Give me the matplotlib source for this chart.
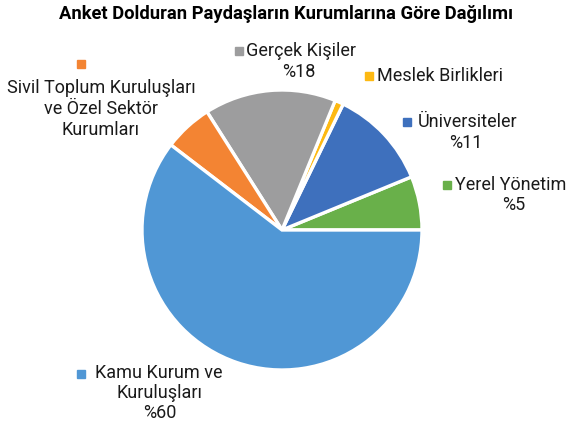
import matplotlib
matplotlib.use("Agg")
import matplotlib.pyplot as plt
from matplotlib.patches import Rectangle

categories = ["Yerel Yönetim", "Üniversiteler", "Meslek Birlikleri",
              "Gerçek Kişiler", "Sivil Toplum Kuruluşları ve Özel Sektör Kurumları",
              "Kamu Kurum ve Kuruluşları"]
values = [6.2, 11.6, 1.0, 15.2, 5.6, 60.4]
colors = ["#69B04A", "#3E70BD", "#FDB913", "#9D9D9E", "#F38433", "#5097D5"]
title = "Anket Dolduran Paydaşların Kurumlarına Göre Dağılımı"

W, H = 571, 429
fig = plt.figure(figsize=(W / 100, H / 100), dpi=100)

cx, cy, r = 282, 230, 140
ax = fig.add_axes([(cx - r) / W, (H - cy - r) / H, 2 * r / W, 2 * r / H])
ax.pie(values, colors=colors, startangle=0, counterclock=True,
       wedgeprops=dict(edgecolor="white", linewidth=2.4))
ax.set_xlim(-1, 1)
ax.set_ylim(-1, 1)
ax.set_aspect("equal")
ax.axis("off")

fam = ["Roboto", "DejaVu Sans"]
fig.text(286 / W, 1 - 14 / H, title, ha="center", va="center",
         fontsize=13.2, fontweight="bold", family=fam)

def px(x, y):
    return x / W, 1 - y / H

def square(x, y, color, s=8):
    fig.patches.append(Rectangle((x / W, 1 - (y + s / 2) / H), s / W, s / H,
                                 transform=fig.transFigure, color=color))

fs = 13
squares = [(443, 185), (403, 122), (365, 76), (235, 51), (77, 64), (77, 374)]
for i, (sx, sy) in enumerate(squares):
    square(sx, sy, colors[i])

tk = dict(va="center", fontsize=fs, family=fam, color="#1a1a1a")
# Yerel Yönetim
fig.text(*px(455, 185), "Yerel Yönetim", ha="left", **tk)
fig.text(*px(514, 205), "%5", ha="center", **tk)
# Üniversiteler
fig.text(*px(418, 122), "Üniversiteler", ha="left", **tk)
fig.text(*px(466, 143), "%11", ha="center", **tk)
# Meslek
fig.text(*px(377, 76), "Meslek Birlikleri", ha="left", **tk)
# Gerçek
fig.text(*px(246, 51), "Gerçek Kişiler", ha="left", **tk)
fig.text(*px(299, 72), "%18", ha="center", **tk)
# Sivil
for k, line in enumerate(["Sivil Toplum Kuruluşları", "ve Özel Sektör", "Kurumları"]):
    fig.text(*px(101, 88 + 21 * k), line, ha="center", **tk)
# Kamu
fig.text(*px(95, 373), "Kamu Kurum ve", ha="left", **tk)
fig.text(*px(160, 393), "Kuruluşları", ha="center", **tk)
fig.text(*px(160, 413), "%60", ha="center", **tk)

fig.savefig("out.png", dpi=100)
